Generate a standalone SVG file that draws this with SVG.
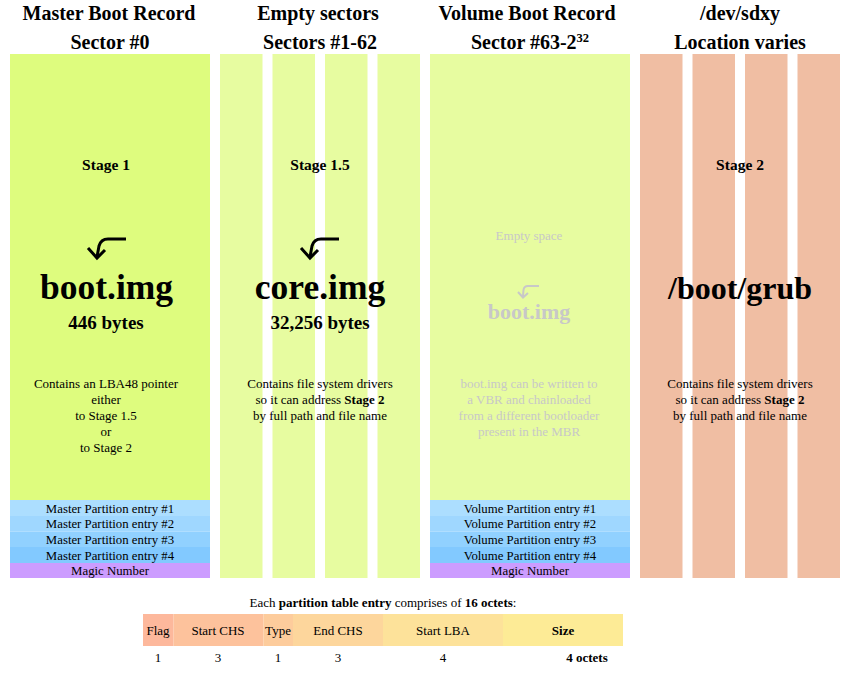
<svg xmlns="http://www.w3.org/2000/svg" width="862" height="678" viewBox="0 0 862 678">
<style>
text{font-family:"Liberation Serif","Times New Roman",serif;fill:#000;text-anchor:middle}
.h{font-size:20px;font-weight:bold}
.st{font-size:15.5px;font-weight:bold}
.big{font-size:35.5px;font-weight:bold}
.sz{font-size:19px;font-weight:bold}
.d{font-size:13px}
.pe{font-size:12.8px}
.g{fill:#c8c8c8}
.b{font-weight:bold}
.t{font-size:13px}
.mbr{fill:#defc7e}
.lt{fill:#e7fca0}
.sal{fill:#f0bea3}
.p1{fill:#acdeff}.p2{fill:#9fd7ff}.p3{fill:#91d1ff}.p4{fill:#82c9ff}.mg{fill:#cc9cff}
.arr{fill:none;stroke:#000;stroke-width:3;stroke-linecap:butt}
.garr{fill:none;stroke:#c8c8c8;stroke-width:2}
</style>
<rect width="862" height="678" fill="#fff"/>

<g id="mbr">
<text class="h" x="109" y="20">Master Boot Record</text>
<text class="h" x="110" y="49">Sector #0</text>
<rect class="mbr" x="10" y="54" width="200" height="446"/>
<text class="st" x="106" y="170">Stage 1</text>
<path class="arr" d="M126,239 H108 Q101,239 99,246 L97,257"/>
<path class="arr" d="M88,248 L97,258 L105,250"/>
<text class="big" x="106.5" y="299">boot.img</text>
<text class="sz" x="106" y="329">446 bytes</text>
<text class="d" x="106" y="388">Contains an LBA48 pointer</text>
<text class="d" x="106" y="404">either</text>
<text class="d" x="106" y="420">to Stage 1.5</text>
<text class="d" x="106" y="436">or</text>
<text class="d" x="106" y="452">to Stage 2</text>
<rect class="p1" x="10" y="500" width="200" height="16"/>
<rect class="p2" x="10" y="516" width="200" height="15.5"/>
<rect class="p3" x="10" y="531.5" width="200" height="15.5"/>
<rect class="p4" x="10" y="547" width="200" height="16"/>
<rect class="mg" x="10" y="563" width="200" height="15"/>
<text class="pe" x="110" y="512.5">Master Partition entry #1</text>
<text class="pe" x="110" y="528">Master Partition entry #2</text>
<text class="pe" x="110" y="544">Master Partition entry #3</text>
<text class="pe" x="110" y="559.5">Master Partition entry #4</text>
<text class="pe" x="110" y="575">Magic Number</text>
</g>

<g id="empty">
<text class="h" x="318" y="20">Empty sectors</text>
<text class="h" x="320" y="49">Sectors #1-62</text>
<rect class="lt" x="220" y="54" width="42.5" height="524"/>
<rect class="lt" x="272.5" y="54" width="42.5" height="524"/>
<rect class="lt" x="325" y="54" width="42.5" height="524"/>
<rect class="lt" x="377.5" y="54" width="42.5" height="524"/>
<text class="st" x="320" y="170">Stage 1.5</text>
<path class="arr" d="M339,239 H321 Q314,239 312,246 L310,257"/>
<path class="arr" d="M301,248 L310,258 L318,250"/>
<text class="big" x="320" y="299">core.img</text>
<text class="sz" x="320" y="329">32,256 bytes</text>
<text class="d" x="320" y="388">Contains file system drivers</text>
<text class="d" x="320" y="404">so it can address <tspan class="b">Stage 2</tspan></text>
<text class="d" x="320" y="420">by full path and file name</text>
</g>

<g id="vbr">
<text class="h" x="527" y="20">Volume Boot Record</text>
<text class="h" x="530" y="49">Sector #63-2<tspan font-size="12.5" dy="-7">32</tspan></text>
<rect class="lt" x="430" y="54" width="200" height="446"/>
<text class="d g" x="529" y="240">Empty space</text>
<path class="garr" d="M539,286 H528 Q524,286 523.5,290 L523,296"/>
<path class="garr" d="M518,292 L523,297.5 L528,293"/>
<text class="big g" x="529" y="319" style="font-size:22px">boot.img</text>
<text class="d g" x="529" y="388">boot.img can be written to</text>
<text class="d g" x="529" y="404">a VBR and chainloaded</text>
<text class="d g" x="529" y="420">from a different bootloader</text>
<text class="d g" x="529" y="436">present in the MBR</text>
<rect class="p1" x="430" y="500" width="200" height="16"/>
<rect class="p2" x="430" y="516" width="200" height="15.5"/>
<rect class="p3" x="430" y="531.5" width="200" height="15.5"/>
<rect class="p4" x="430" y="547" width="200" height="16"/>
<rect class="mg" x="430" y="563" width="200" height="15"/>
<text class="pe" x="530" y="512.5">Volume Partition entry #1</text>
<text class="pe" x="530" y="528">Volume Partition entry #2</text>
<text class="pe" x="530" y="544">Volume Partition entry #3</text>
<text class="pe" x="530" y="559.5">Volume Partition entry #4</text>
<text class="pe" x="530" y="575">Magic Number</text>
</g>

<g id="grub">
<text class="h" x="740" y="20">/dev/sdxy</text>
<text class="h" x="740" y="49">Location varies</text>
<rect class="sal" x="640" y="54" width="42.5" height="524"/>
<rect class="sal" x="692.5" y="54" width="42.5" height="524"/>
<rect class="sal" x="745" y="54" width="42.5" height="524"/>
<rect class="sal" x="797.5" y="54" width="42.5" height="524"/>
<text class="st" x="740" y="170">Stage 2</text>
<text class="big" x="740" y="299" style="font-size:32px">/boot/grub</text>
<text class="d" x="740" y="388">Contains file system drivers</text>
<text class="d" x="740" y="404">so it can address <tspan class="b">Stage 2</tspan></text>
<text class="d" x="740" y="420">by full path and file name</text>
</g>

<g id="entry-table">
<text class="t" x="383" y="607">Each <tspan class="b">partition table entry</tspan> comprises of <tspan class="b">16 octets</tspan>:</text>
<rect x="143" y="614" width="30.5" height="32" fill="#fdb89c"/>
<rect x="173.5" y="614" width="90" height="32" fill="#fdc29c"/>
<rect x="263.5" y="614" width="29.5" height="32" fill="#fdcc9c"/>
<rect x="293" y="614" width="90" height="32" fill="#fdd69c"/>
<rect x="383" y="614" width="120" height="32" fill="#fde29a"/>
<rect x="503" y="614" width="120" height="32" fill="#fdeb96"/>
<text class="t" x="158" y="635">Flag</text>
<text class="t" x="218" y="635">Start CHS</text>
<text class="t" x="278" y="635">Type</text>
<text class="t" x="338" y="635">End CHS</text>
<text class="t" x="443" y="635">Start LBA</text>
<text class="t b" x="563" y="635">Size</text>
<text class="t" x="158" y="662">1</text>
<text class="t" x="218" y="662">3</text>
<text class="t" x="278" y="662">1</text>
<text class="t" x="338" y="662">3</text>
<text class="t" x="443" y="662">4</text>
<text class="t b" x="587" y="662">4  octets</text>
</g>
</svg>
